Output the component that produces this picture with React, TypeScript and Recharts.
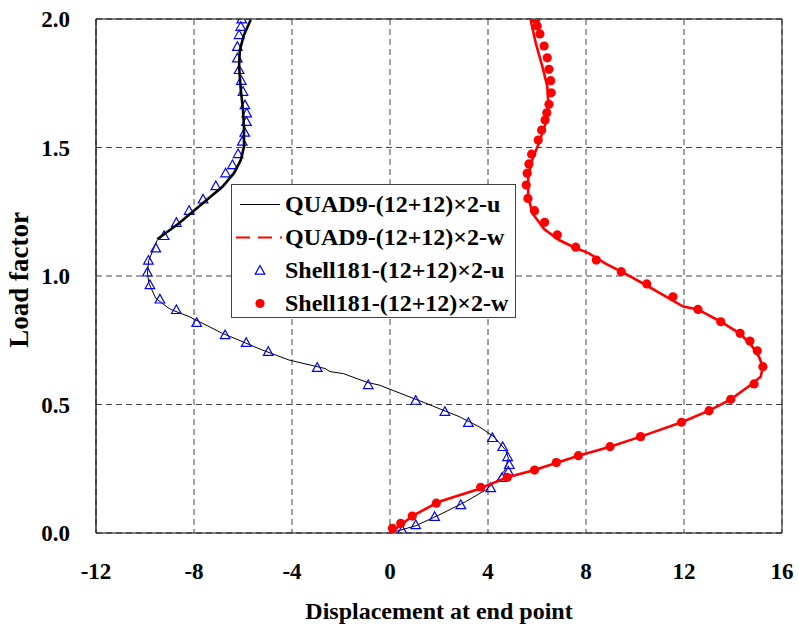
import React from 'react';
import { ScatterChart, Scatter, XAxis, YAxis, CartesianGrid, ReferenceLine, Legend } from 'recharts';

// QUAD9-(12+12)x2-u : lower thin part of the curve
const quadULower = [
  { x: 0, y: 0 }, { x: 1.05, y: 0.028 }, { x: 2.0, y: 0.07 }, { x: 3.09, y: 0.122 },
  { x: 3.9, y: 0.167 }, { x: 4.38, y: 0.206 }, { x: 4.69, y: 0.245 }, { x: 4.83, y: 0.292 },
  { x: 4.72, y: 0.323 }, { x: 4.24, y: 0.375 }, { x: 3.63, y: 0.414 }, { x: 2.82, y: 0.453 },
  { x: 1.46, y: 0.505 }, { x: -0.45, y: 0.576 }, { x: -0.9, y: 0.585 }, { x: -1.9, y: 0.62 },
  { x: -2.45, y: 0.628 }, { x: -2.65, y: 0.64 }, { x: -4.12, y: 0.673 }, { x: -5.21, y: 0.712 },
  { x: -6.84, y: 0.777 }, { x: -8.2, y: 0.842 }, { x: -8.9, y: 0.868 }, { x: -9.05, y: 0.876 },
  { x: -9.56, y: 0.913 }, { x: -9.84, y: 0.972 }, { x: -9.9, y: 1.012 }, { x: -9.85, y: 1.06 },
  { x: -9.5, y: 1.14 },
];

// QUAD9-(12+12)x2-u : upper part, drawn heavier (dense points)
const quadUUpper = [
  { x: -9.5, y: 1.143 }, { x: -8.61, y: 1.205 }, { x: -7.8, y: 1.27 }, { x: -6.84, y: 1.347 },
  { x: -6.37, y: 1.4 }, { x: -6.09, y: 1.451 }, { x: -5.96, y: 1.503 }, { x: -5.96, y: 1.581 },
  { x: -6.0, y: 1.646 }, { x: -6.09, y: 1.724 }, { x: -6.16, y: 1.814 }, { x: -6.13, y: 1.879 },
  { x: -5.96, y: 1.938 }, { x: -5.69, y: 1.996 },
];

// QUAD9-(12+12)x2-w
const quadW = [
  { x: 0, y: 0 }, { x: 0.37, y: 0.025 }, { x: 0.91, y: 0.066 }, { x: 2.0, y: 0.122 },
  { x: 3.5, y: 0.167 }, { x: 4.79, y: 0.217 }, { x: 5.9, y: 0.245 }, { x: 7.69, y: 0.301 },
  { x: 8.98, y: 0.336 }, { x: 10.23, y: 0.375 }, { x: 11.9, y: 0.431 }, { x: 13.02, y: 0.476 },
  { x: 13.91, y: 0.52 }, { x: 14.7, y: 0.575 }, { x: 15.13, y: 0.608 }, { x: 15.22, y: 0.647 },
  { x: 15.06, y: 0.686 }, { x: 14.79, y: 0.725 }, { x: 14.3, y: 0.775 }, { x: 13.5, y: 0.822 },
  { x: 12.57, y: 0.87 }, { x: 11.97, y: 0.881 }, { x: 11.16, y: 0.926 }, { x: 10.44, y: 0.965 },
  { x: 9.62, y: 1.008 }, { x: 8.8, y: 1.048 }, { x: 8.12, y: 1.088 }, { x: 7.44, y: 1.115 },
  { x: 6.9, y: 1.14 }, { x: 6.29, y: 1.183 }, { x: 5.81, y: 1.244 }, { x: 5.64, y: 1.309 },
  { x: 5.64, y: 1.389 }, { x: 5.81, y: 1.453 }, { x: 6.08, y: 1.518 }, { x: 6.36, y: 1.596 },
  { x: 6.46, y: 1.673 }, { x: 6.42, y: 1.738 }, { x: 6.22, y: 1.815 }, { x: 5.95, y: 1.906 },
  { x: 5.74, y: 1.996 },
];

// Shell181-(12+12)x2-u
const shellU = [
  { x: 0.5, y: 0.01 }, { x: 1.05, y: 0.031 }, { x: 1.82, y: 0.063 }, { x: 2.89, y: 0.109 },
  { x: 4.11, y: 0.175 }, { x: 4.57, y: 0.215 }, { x: 4.83, y: 0.239 }, { x: 4.87, y: 0.265 },
  { x: 4.8, y: 0.296 }, { x: 4.6, y: 0.335 }, { x: 4.18, y: 0.37 }, { x: 3.2, y: 0.429 },
  { x: 2.24, y: 0.472 }, { x: 1.05, y: 0.515 }, { x: -0.89, y: 0.576 }, { x: -2.97, y: 0.643 },
  { x: -4.97, y: 0.705 }, { x: -5.87, y: 0.74 }, { x: -6.73, y: 0.77 }, { x: -7.89, y: 0.818 },
  { x: -8.72, y: 0.868 }, { x: -9.39, y: 0.909 }, { x: -9.8, y: 0.965 }, { x: -9.9, y: 1.014 },
  { x: -9.86, y: 1.06 }, { x: -9.56, y: 1.108 }, { x: -9.22, y: 1.156 }, { x: -8.72, y: 1.207 },
  { x: -8.2, y: 1.254 }, { x: -7.63, y: 1.298 }, { x: -7.11, y: 1.35 }, { x: -6.71, y: 1.4 },
  { x: -6.43, y: 1.432 }, { x: -6.2, y: 1.475 }, { x: -6.03, y: 1.523 }, { x: -5.93, y: 1.558 },
  { x: -5.86, y: 1.6 }, { x: -5.85, y: 1.633 }, { x: -5.92, y: 1.665 }, { x: -6.0, y: 1.717 },
  { x: -6.07, y: 1.76 }, { x: -6.16, y: 1.802 }, { x: -6.23, y: 1.847 }, { x: -6.23, y: 1.892 },
  { x: -6.16, y: 1.938 }, { x: -6.09, y: 1.97 }, { x: -6.05, y: 1.999 },
];

// Shell181-(12+12)x2-w
const shellW = [
  { x: 0.1, y: 0.018 }, { x: 0.44, y: 0.038 }, { x: 0.91, y: 0.066 }, { x: 1.89, y: 0.116 },
  { x: 3.7, y: 0.178 }, { x: 4.79, y: 0.217 }, { x: 5.9, y: 0.245 }, { x: 6.79, y: 0.274 },
  { x: 7.69, y: 0.301 }, { x: 8.98, y: 0.336 }, { x: 10.23, y: 0.375 }, { x: 11.9, y: 0.431 },
  { x: 13.02, y: 0.476 }, { x: 13.91, y: 0.52 }, { x: 14.86, y: 0.58 }, { x: 15.22, y: 0.647 },
  { x: 14.99, y: 0.709 }, { x: 14.69, y: 0.747 }, { x: 14.29, y: 0.777 }, { x: 13.5, y: 0.822 },
  { x: 12.57, y: 0.87 }, { x: 11.55, y: 0.919 }, { x: 10.48, y: 0.969 }, { x: 9.44, y: 1.017 },
  { x: 8.42, y: 1.062 }, { x: 7.58, y: 1.112 }, { x: 6.83, y: 1.16 }, { x: 6.31, y: 1.209 },
  { x: 5.9, y: 1.254 }, { x: 5.63, y: 1.302 }, { x: 5.56, y: 1.354 }, { x: 5.6, y: 1.4 },
  { x: 5.67, y: 1.436 }, { x: 5.78, y: 1.474 }, { x: 6.05, y: 1.529 }, { x: 6.19, y: 1.568 },
  { x: 6.33, y: 1.607 }, { x: 6.4, y: 1.635 }, { x: 6.49, y: 1.668 }, { x: 6.58, y: 1.713 },
  { x: 6.56, y: 1.76 }, { x: 6.49, y: 1.804 }, { x: 6.42, y: 1.849 }, { x: 6.29, y: 1.895 },
  { x: 6.12, y: 1.942 }, { x: 6.01, y: 1.973 }, { x: 5.95, y: 1.999 },
];

const xTicks = [-12, -8, -4, 0, 4, 8, 12, 16];
const yTicks = [0, 0.5, 1.0, 1.5, 2.0];

const legendLabels = [
  'QUAD9-(12+12)\u00d72-u',
  'QUAD9-(12+12)\u00d72-w',
  'Shell181-(12+12)\u00d72-u',
  'Shell181-(12+12)\u00d72-w',
];

const FONT = '"Liberation Serif", "Times New Roman", serif';

const tickStyle = { fill: '#000', fontFamily: FONT, fontWeight: 'bold', fontSize: 23 };

const NoDot = () => <g />;

const Triangle = (props: any) => {
  const { cx, cy } = props;
  if (cx == null || cy == null) return <g />;
  return (
    <polygon
      points={`${cx},${cy - 5} ${cx - 4.8},${cy + 3.6} ${cx + 4.8},${cy + 3.6}`}
      fill="none"
      stroke="#0000ff"
      strokeWidth={1.2}
    />
  );
};

const RedDot = (props: any) => {
  const { cx, cy } = props;
  if (cx == null || cy == null) return <g />;
  return <circle cx={cx} cy={cy} r={4.6} fill="#ff0000" />;
};

const XTitle = (props: any) => {
  const { viewBox } = props;
  return (
    <text x={viewBox.x + viewBox.width / 2} y={viewBox.y + 86} textAnchor="middle"
      fontFamily={FONT} fontWeight="bold" fontSize={24} fill="#000">
      Displacement at end point
    </text>
  );
};

const YTitle = (props: any) => {
  const { viewBox } = props;
  const cy = viewBox.y + viewBox.height / 2 + 4;
  return (
    <text x={28} y={cy} textAnchor="middle" transform={`rotate(-90, 28, ${cy})`}
      fontFamily={FONT} fontWeight="bold" fontSize={27} fill="#000">
      Load factor
    </text>
  );
};

const LegendBox = () => {
  const icons = [
    <line x1={8} y1={16.5} x2={48} y2={16.5} stroke="#000" strokeWidth={1} />,
    <line x1={4} y1={16.5} x2={50} y2={16.5} stroke="#ff0000" strokeWidth={2} strokeDasharray="14 8" />,
    <polygon points="28,11.5 23.2,20.1 32.8,20.1" fill="none" stroke="#0000ff" strokeWidth={1.2} />,
    <circle cx={28} cy={16.5} r={4.6} fill="#ff0000" />,
  ];
  return (
    <div style={{
      boxSizing: 'border-box', width: 285, height: 134, border: '1px solid #444',
      background: '#fff', paddingTop: 3,
    }}>
      {legendLabels.map((label, i) => (
        <div key={label} style={{ display: 'flex', alignItems: 'center', height: 33 }}>
          <svg width={53} height={33}>{icons[i]}</svg>
          <span style={{
            fontFamily: FONT, fontWeight: 'bold', fontSize: 24, lineHeight: '33px',
            whiteSpace: 'nowrap', color: '#000',
          }}>{label}</span>
        </div>
      ))}
    </div>
  );
};

export default function App() {
  return (
    <div style={{ position: 'absolute', left: 0, top: 0, background: '#fff' }}>
      <ScatterChart width={799} height={628} margin={{ top: 19, right: 17, left: 0, bottom: 0 }}>
        <CartesianGrid stroke="#444" strokeDasharray="6 4" />
        <XAxis type="number" dataKey="x" domain={[-12, 16]} ticks={xTicks} interval={0}
          height={95} tickSize={0} tickMargin={30} tickLine={false}
          axisLine={{ stroke: '#000', strokeWidth: 1.2 }} tick={tickStyle}
          allowDataOverflow label={<XTitle />} />
        <YAxis type="number" dataKey="y" domain={[0, 2]} ticks={yTicks} interval={0}
          width={96} tickSize={0} tickMargin={26} tickLine={false}
          axisLine={{ stroke: '#000', strokeWidth: 1.2 }} tick={tickStyle}
          tickFormatter={(v: number) => v.toFixed(1)} allowDataOverflow label={<YTitle />} />
        <ReferenceLine y={2} stroke="#000" strokeWidth={1.2} />
        <ReferenceLine x={16} stroke="#333" strokeWidth={1.2} />
        <Scatter name="QUAD9-u" data={quadULower} shape={NoDot} isAnimationActive={false}
          line={{ stroke: '#000', strokeWidth: 1 }} lineType="joint" />
        <Scatter name="Shell181-u" data={shellU} shape={Triangle} isAnimationActive={false} />
        <Scatter name="QUAD9-u upper" data={quadUUpper} shape={NoDot} isAnimationActive={false}
          line={{ stroke: '#000', strokeWidth: 2.6 }} lineType="joint" />
        <Scatter name="QUAD9-w" data={quadW} shape={NoDot} isAnimationActive={false}
          line={{ stroke: '#ff0000', strokeWidth: 2.6 }} lineType="joint" />
        <Scatter name="Shell181-w" data={shellW} shape={RedDot} isAnimationActive={false} />
        <Legend content={<LegendBox />} layout="horizontal" verticalAlign="middle" align="center"
          wrapperStyle={{ left: 231, top: 184, width: 285, height: 134 }} />
      </ScatterChart>
    </div>
  );
}
